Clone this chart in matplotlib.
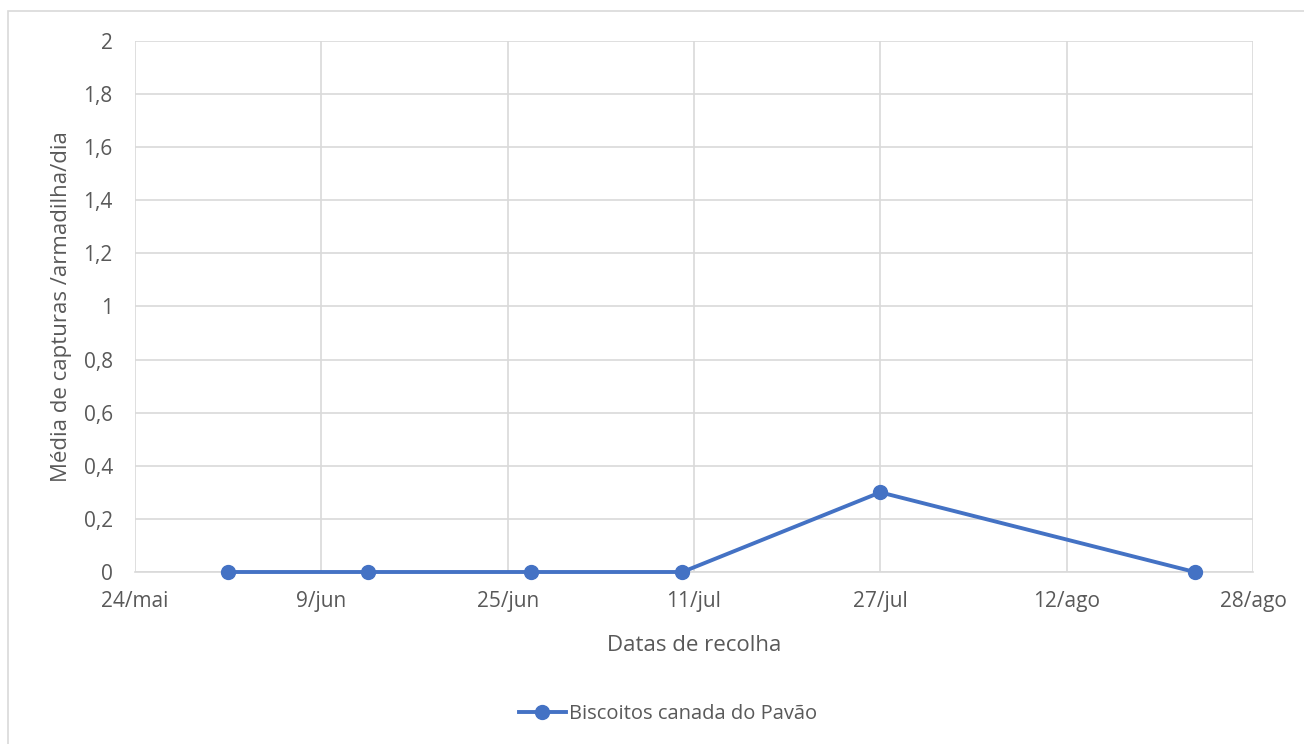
import matplotlib
matplotlib.use("Agg")
import matplotlib.pyplot as plt
import matplotlib.dates as mdates
from matplotlib.ticker import FuncFormatter, MultipleLocator
from matplotlib.patches import Rectangle
import datetime as dt

plt.rcParams['font.family'] = ['Open Sans', 'DejaVu Sans']

# Data
dates = ["2019-06-01", "2019-06-13", "2019-06-27", "2019-07-10", "2019-07-27", "2019-08-23"]
values = [0, 0, 0, 0, 0.3, 0]
series_name = "Biscoitos canada do Pavão"
x_start = "2019-05-24"
x_end = "2019-08-28"
tick_step_days = 16
months_pt = ["jan", "fev", "mar", "abr", "mai", "jun", "jul", "ago", "set", "out", "nov", "dez"]

xd = [dt.datetime.strptime(d, "%Y-%m-%d") for d in dates]
x0 = dt.datetime.strptime(x_start, "%Y-%m-%d")
x1 = dt.datetime.strptime(x_end, "%Y-%m-%d")

fig = plt.figure(figsize=(13.04, 7.44), dpi=100)
W, H = 1304, 744
ax = fig.add_axes([135 / W, 1 - 572 / H, (1253 - 135) / W, (572 - 41) / H])

# outer chart border
fig.patches.append(Rectangle((8 / W, -0.01), 1.0, 1 - 11 / H + 0.01, transform=fig.transFigure,
                             fill=False, edgecolor="#d9d9d9", linewidth=1.2))

color = "#4472c4"
ax.plot(xd, values, color=color, linewidth=2.8, marker="o", markersize=10, label=series_name,
        zorder=3, clip_on=False)

ax.set_xlim(x0, x1)
ax.set_ylim(0, 2)
ticks = []
t = x0
while t <= x1:
    ticks.append(t)
    t += dt.timedelta(days=tick_step_days)
ax.set_xticks(ticks)
ax.xaxis.set_major_formatter(FuncFormatter(
    lambda v, p: (lambda d: f"{d.day}/{months_pt[d.month - 1]}")(mdates.num2date(v))))
ax.yaxis.set_major_locator(MultipleLocator(0.2))
ax.yaxis.set_major_formatter(FuncFormatter(lambda v, p: (f"{v:.1f}".rstrip("0").rstrip(".")).replace(".", ",")))

ax.grid(True, color="#d9d9d9", linewidth=1.2)
ax.set_axisbelow(True)
for s in ["top", "right", "left"]:
    ax.spines[s].set_visible(False)
ax.spines["bottom"].set_color("#d9d9d9")
ax.spines["bottom"].set_linewidth(1.2)
ax.tick_params(axis="both", length=0, labelsize=15, labelcolor="#595959")
ax.tick_params(axis="y", pad=16)
ax.tick_params(axis="x", pad=14)

ax.set_xlabel("Datas de recolha", fontsize=16, color="#595959", labelpad=16)
ax.set_ylabel("Média de capturas /armadilha/dia", fontsize=16, color="#595959", labelpad=8)

leg = fig.legend(loc="center", bbox_to_anchor=(668 / W, 1 - 714 / H), frameon=False,
                 fontsize=14.5, handlelength=2.3, handletextpad=0.15)
for txt in leg.get_texts():
    txt.set_color("#595959")

fig.savefig("out.png", dpi=100)
